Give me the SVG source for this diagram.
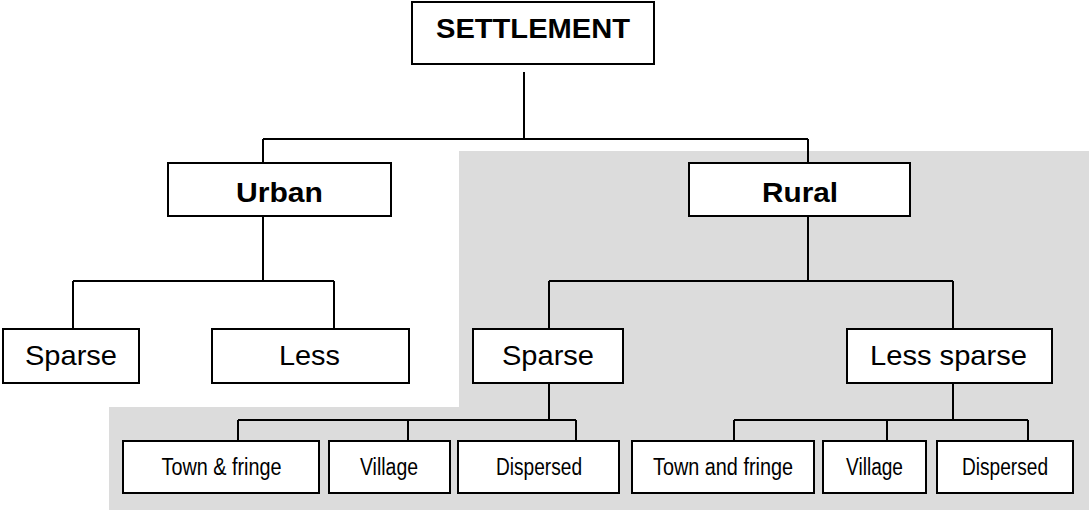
<svg xmlns="http://www.w3.org/2000/svg" width="1090" height="512" viewBox="0 0 1090 512">
<style>
.box{fill:#fff;stroke:#000;stroke-width:2}
.ln{fill:none;stroke:#000;stroke-width:2}
text{font-family:"Liberation Sans",Arial,sans-serif;fill:#000;text-anchor:middle}
.b1{font-weight:bold;font-size:27px}
.b2{font-weight:bold;font-size:28px}
.m{font-size:28px}
.s{font-size:23.5px}
</style>
<rect width="1090" height="512" fill="#fff"/>
<polygon points="459,151 1089,151 1089,510 109,510 109,407 459,407" fill="#dcdcdc"/>
<g id="connectors">
<path class="ln" d="M524,72 V139 M263,139 H808 M263,139 V163 M808,139 V163"/>
<path class="ln" d="M263,216 V281 M73,281 H334 M73,281 V329 M334,281 V329"/>
<path class="ln" d="M808,216 V281 M549,281 H953 M549,281 V329 M953,281 V329"/>
<path class="ln" d="M549,383 V420 M238,420 H576 M238,420 V441 M408,420 V441 M576,420 V441"/>
<path class="ln" d="M953,383 V420 M734,420 H1028 M734,420 V441 M887,420 V441 M1028,420 V441"/>
</g>
<g id="settlement"><rect class="box" x="412" y="2" width="242" height="62"/><text class="b1" x="533" y="38" textLength="194" lengthAdjust="spacingAndGlyphs">SETTLEMENT</text></g>
<g id="urban"><rect class="box" x="168" y="163" width="223" height="53"/><text class="b2" x="279.5" y="202" textLength="87" lengthAdjust="spacingAndGlyphs">Urban</text></g>
<g id="rural"><rect class="box" x="689" y="163" width="221" height="53"/><text class="b2" x="800" y="202" textLength="76" lengthAdjust="spacingAndGlyphs">Rural</text></g>
<g id="urban-sparse"><rect class="box" x="3" y="329" width="136" height="54"/><text class="m" x="71" y="365" textLength="92" lengthAdjust="spacingAndGlyphs">Sparse</text></g>
<g id="urban-less"><rect class="box" x="212" y="329" width="197" height="54"/><text class="m" x="309.5" y="365" textLength="61" lengthAdjust="spacingAndGlyphs">Less</text></g>
<g id="rural-sparse"><rect class="box" x="473" y="329" width="150" height="54"/><text class="m" x="548" y="365" textLength="92" lengthAdjust="spacingAndGlyphs">Sparse</text></g>
<g id="rural-less-sparse"><rect class="box" x="847" y="329" width="205" height="54"/><text class="m" x="948.5" y="365" textLength="157" lengthAdjust="spacingAndGlyphs">Less sparse</text></g>
<g id="s-town"><rect class="box" x="123" y="441" width="196" height="52"/><text class="s" x="221.5" y="475" textLength="120" lengthAdjust="spacingAndGlyphs">Town &amp; fringe</text></g>
<g id="s-village"><rect class="box" x="329" y="441" width="121" height="52"/><text class="s" x="389" y="475" textLength="58" lengthAdjust="spacingAndGlyphs">Village</text></g>
<g id="s-dispersed"><rect class="box" x="458" y="441" width="161" height="52"/><text class="s" x="539" y="475" textLength="86" lengthAdjust="spacingAndGlyphs">Dispersed</text></g>
<g id="l-town"><rect class="box" x="632" y="441" width="182" height="52"/><text class="s" x="723" y="475" textLength="140" lengthAdjust="spacingAndGlyphs">Town and fringe</text></g>
<g id="l-village"><rect class="box" x="823" y="441" width="103" height="52"/><text class="s" x="874.5" y="475" textLength="57" lengthAdjust="spacingAndGlyphs">Village</text></g>
<g id="l-dispersed"><rect class="box" x="937" y="441" width="136" height="52"/><text class="s" x="1005" y="475" textLength="86" lengthAdjust="spacingAndGlyphs">Dispersed</text></g>
</svg>
